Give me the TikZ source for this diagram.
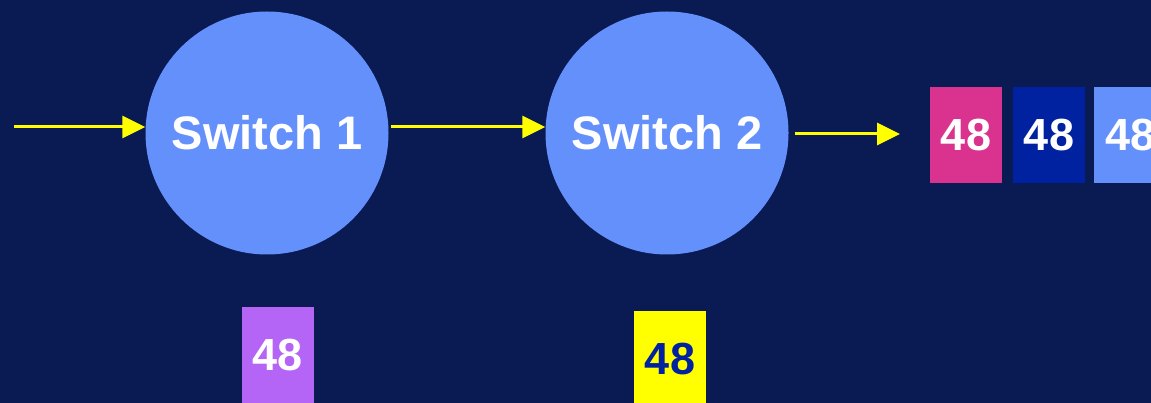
\documentclass[tikz,border=0pt]{standalone}
\usepackage{fontspec}
\setmainfont{Liberation Sans}
\usetikzlibrary{arrows.meta}
\definecolor{bg}{HTML}{0A1A52}
\definecolor{sw}{HTML}{6490FB}
\definecolor{pinkc}{HTML}{D9338F}
\definecolor{navyc}{HTML}{0022A0}
\definecolor{purplec}{HTML}{B565F5}
\definecolor{yellowc}{HTML}{FFFF00}
\tikzset{
  switchnode/.style={circle, fill=sw, minimum size=243pt, inner sep=0pt, text=white, font=\fontsize{47}{50}\selectfont\bfseries},
  cell/.style={minimum width=72pt, minimum height=96pt, inner sep=0pt, text=white, font=\fontsize{45}{50}\selectfont\bfseries},
  flow/.style={draw=yellowc, line width=3pt, -{Triangle[length=23pt,width=22pt]}}
}
\begin{document}
\begin{tikzpicture}[x=1pt,y=-1pt]
\fill[bg] (0,0) rectangle (1151,403);
\useasboundingbox (0,0) rectangle (1151,403);
\node[switchnode] (s1) at (267,133) {Switch 1};
\node[switchnode] (s2) at (667,133) {Switch 2};
\coordinate (in) at (14,127);
\coordinate (out) at (900,134);
\draw[flow] (in) -- (s1.west |- in);
\draw[flow] (391,127) coordinate (m) -- (s2.west |- m);
\draw[flow] (795,134) coordinate (o) -- (out);
\node[cell, fill=pinkc] (c1) at (966,135) {48};
\node[cell, fill=navyc] (c2) at (1049,135) {48};
\node[cell, fill=sw, anchor=west] (c3) at (1094,135) {48};
\node[cell, fill=purplec] (p) at (278,355) {48};
\node[cell, fill=yellowc, text=navyc] (y) at (670,359) {48};
\end{tikzpicture}
\end{document}
